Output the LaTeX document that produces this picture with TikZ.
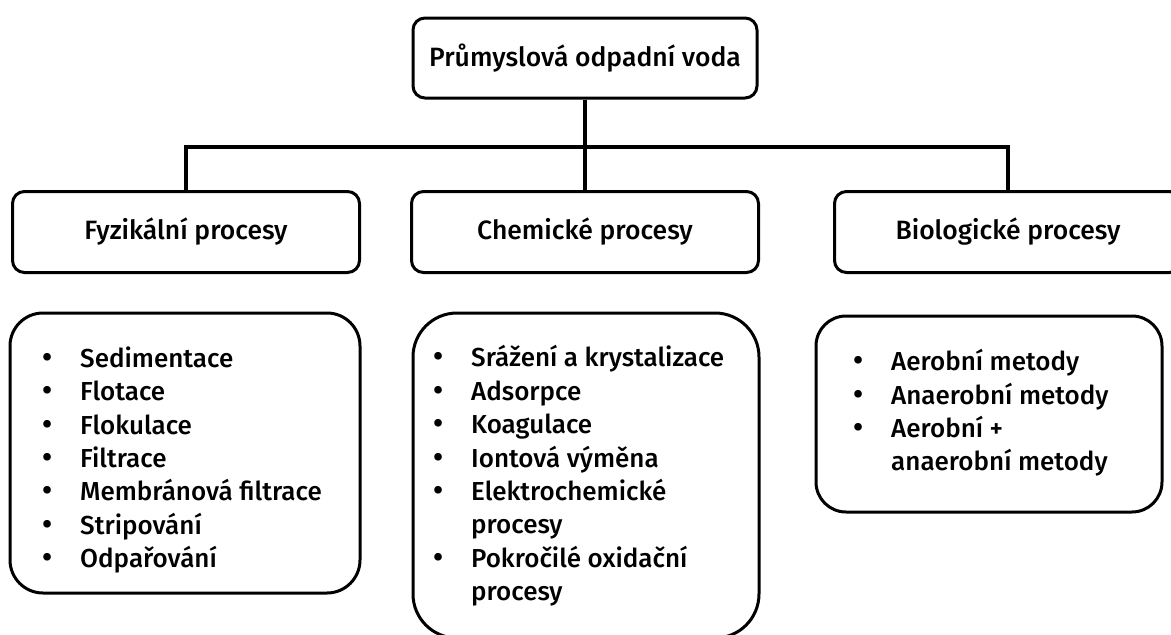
\documentclass[tikz,border=0pt]{standalone}
\usepackage{fontspec}
\setmainfont{Fira Sans}[UprightFont=* Medium]
\newcommand\bul{\makebox[38pt][l]{\fontsize{30}{30}\selectfont •}}
\newcommand\ind{\hspace*{38pt}}
\begin{document}
\begin{tikzpicture}[x=1pt,y=-1pt,
  hbox/.style={draw, line width=3pt, rounded corners=12pt, minimum width=347pt, minimum height=81pt, inner sep=0pt, font=\fontsize{26.5}{30}\selectfont},
  lbox/.style={draw, line width=3pt, inner sep=0pt},
  ltext/.style={anchor=west, align=left, inner sep=0pt, font=\fontsize{26}{33.4}\selectfont},
  conn/.style={line width=3.5pt}]
\useasboundingbox (0,0) rectangle (1171,635);
% top
\node[hbox, minimum width=344pt, minimum height=80pt] (top) at (585,58) {Průmyslová odpadní voda};
% headings
\node[hbox] (fyz) at (186,232) {Fyzikální procesy};
\node[hbox] (chem) at (585,232) {Chemické procesy};
\node[hbox] (bio) at (1008,232) {Biologické procesy};
% connectors
\coordinate (bar) at (585,147);
\draw[conn] (top.south) -- (chem.north);
\draw[conn] (fyz.north) -- (fyz.north |- bar) -- (bio.north |- bar) -- (bio.north);
% list boxes
\node[lbox, rounded corners=33pt, minimum width=350pt, minimum height=280pt] (fyzl) at (185,453) {};
\node[lbox, rounded corners=44pt, minimum width=346pt, minimum height=325pt] (cheml) at (586,475.5) {};
\node[lbox, rounded corners=30pt, minimum width=346pt, minimum height=196pt] (biol) at (989,414) {};
% list texts
\node[ltext] (fyzt) at (42,460) {\bul Sedimentace\\ \bul Flotace\\ \bul Flokulace\\ \bul Filtrace\\ \bul Membránová filtrace\\ \bul Stripování\\ \bul Odpařování};
\node[ltext] (chemt) at (433,476) {\bul Srážení a krystalizace\\ \bul Adsorpce\\ \bul Koagulace\\ \bul Iontová výměna\\ \bul Elektrochemické\\ \ind procesy\\ \bul Pokročilé oxidační\\ \ind procesy};
\node[ltext] (biot) at (853,413) {\bul Aerobní metody\\ \bul Anaerobní metody\\ \bul Aerobní +\\ \ind anaerobní metody};
\end{tikzpicture}
\end{document}
